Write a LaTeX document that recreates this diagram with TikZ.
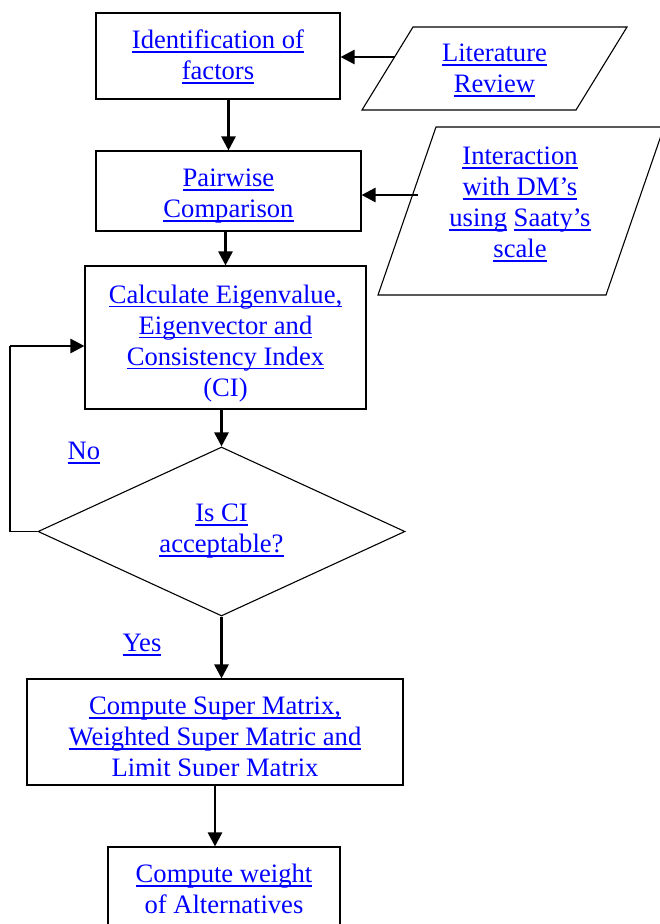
\documentclass[tikz,border=0pt]{standalone}
\usepackage{fontspec}
\setmainfont{Liberation Serif}
\usetikzlibrary{shapes.geometric, arrows.meta, positioning}
\definecolor{linkblue}{RGB}{0,0,255}
\newcommand{\lnk}[1]{\setbox0=\hbox{#1}\rlap{\rule[-4pt]{\wd0}{1.7pt}}\box0\relax}

\begin{document}
\begin{tikzpicture}[
  x=1pt, y=-1pt,
  box/.style={rectangle, draw=black, line width=1.1pt, inner sep=0pt, align=center,
    font=\fontsize{26.6}{31}\selectfont\color{linkblue}},
  txt/.style={inner sep=0pt, align=center, font=\fontsize{26.6}{31}\selectfont\color{linkblue}},
  decide/.style={diamond, draw=black, line width=1.1pt, aspect=2.2, inner sep=0pt, align=center,
    font=\fontsize{26.6}{31}\selectfont\color{linkblue}},
  flow/.style={-{Triangle[length=14pt, width=14pt]}, line width=2.6pt},
  thinline/.style={line width=1.1pt}
]
\useasboundingbox (0,0) rectangle (659,924);

\node[box, minimum width=244pt, minimum height=86pt] (ident) at (218,56) {};
\node[txt] (identtxt) at (218,57) {\lnk{Identification of}\\\lnk{factors}};
\node[box, minimum width=265pt, minimum height=80pt] (pair) at (228.5,191) {};
\node[txt] (pairtxt) at (228.5,196.5) {\lnk{Pairwise}\\\lnk{Comparison}};
\node[box, minimum width=281pt, minimum height=143pt] (eigen) at (225.5,337.5) {};
\node[txt] (eigentxt) at (225.5,343.5)
  {\lnk{Calculate Eigenvalue,}\\\lnk{Eigenvector and}\\\lnk{Consistency Index}\\(CI)};
\node[decide, minimum width=367pt, minimum height=169pt] (ci) at (221.5,531.5) {\lnk{Is CI}\\\lnk{acceptable?}};
\node[box, minimum width=376pt, minimum height=106pt] (super) at (215,732) {};
\node[box, minimum width=232pt, minimum height=90pt] (alt) at (224,892) {};
\node[txt] (alttxt) at (224,889) {\lnk{Compute weight}\\of Alternatives};

% text of the super matrix box is cut at the bottom
\begin{scope}
  \clip (super.north west) rectangle (403,775);
  \node[txt] (supertxt) at (215,740) {\lnk{Compute Super Matrix,}\\\lnk{Weighted Super Matric and}\\\lnk{Limit Super Matrix}};
\end{scope}

% input parallelograms
\draw[thinline] (362,110) -- (413,27) -- (627,27) -- (576,110) -- cycle;
\node[txt] (lit) at (494.5,70.5) {\lnk{Literature}\\\lnk{Review}};
\draw[thinline] (378,295) -- (436,127) -- (664,127) -- (606,295) -- cycle;
\node[txt] (inter) at (520,204.5) {\lnk{Interaction}\\\lnk{with DM's}\\\lnk{using} \lnk{Saaty's}\\\lnk{scale}};

\node[txt] (no) at (84,453) {\lnk{No}};
\node[txt] (yes) at (142,645) {\lnk{Yes}};

\coordinate (litin) at (395,57);
\coordinate (intin) at (418,195);
\coordinate (back) at (10,346);

\draw[flow] (litin) -- (litin -| ident.east);
\draw[flow] (intin) -- (intin -| pair.east);
\draw[flow] (ident.south -| pair.north) -- (pair.north);
\draw[flow] (pair.south -| eigen.north) -- (eigen.north);
\draw[flow] (eigen.south -| ci.north) -- (ci.north);
\draw[flow] (ci.south) -- (ci.south |- super.north);
\draw[flow] (super.south) -- (super.south |- alt.north);

% loop back when CI is not acceptable
\draw[thinline] (ci.west) -| (back);
\draw[flow] (back) -- (back -| eigen.west);
\end{tikzpicture}
\end{document}
